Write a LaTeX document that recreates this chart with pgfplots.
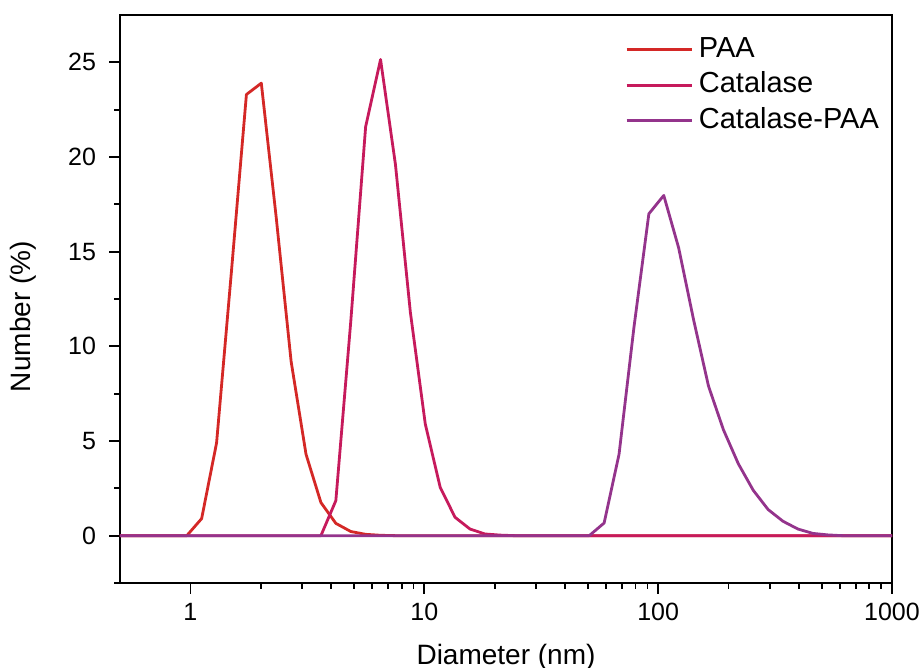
\documentclass[border=0pt]{standalone}
\usepackage{fontspec}
\setmainfont{Liberation Sans}
\usepackage{pgfplots}
\pgfplotsset{compat=1.18}

\definecolor{paa}{RGB}{212,40,38}
\definecolor{cat}{RGB}{198,26,92}
\definecolor{catpaa}{RGB}{148,52,140}

\begin{document}
\begin{tikzpicture}
\begin{axis}[
  name=ax,
  scale only axis,
  width=386pt, height=284pt,
  xmode=log,
  xmin=0.5, xmax=1000,
  ymin=-2.5, ymax=27.5,
  xtick={1,10,100,1000},
  xticklabels={1,10,100,1000},
  ytick={0,5,10,15,20,25},
  minor ytick={-2.5,2.5,7.5,12.5,17.5,22.5},
  tick align=outside,
  xtick pos=bottom, ytick pos=left,
  major tick length=5.5pt, minor tick length=3pt,
  every tick/.style={black, line width=0.9pt},
  axis line style={black, line width=1pt},
  /pgf/number format/assume math mode=true,
  tick label style={font=\fontsize{12.5}{14}\selectfont},
  xticklabel style={yshift=-1pt},
  yticklabel style={xshift=-3pt},
  xlabel={Diameter (nm)},
  ylabel={Number (\%)},
  label style={font=\fontsize{14}{16}\selectfont},
  xlabel style={at={(rel axis cs:0.5,0)}, anchor=center, yshift=-37pt},
  ylabel style={at={(rel axis cs:0,0.469)}, anchor=center, yshift=48.5pt},
  legend style={at={(rel axis cs:0.646,0.974)}, anchor=north west, draw=none, fill=none,
    font=\fontsize{14.5}{17}\selectfont, row sep=2.3pt,
    nodes={inner sep=1pt, text height=10.5pt, text depth=3pt}},
  legend cell align=left,
  legend image code/.code={\draw[#1] (0pt,0pt) -- (32.5pt,0pt); \path (34.5pt,0pt);},
  every axis plot/.append style={line width=1.4pt, line join=round},
]
% PAA
\addplot[paa] coordinates {
  (0.5,0) (0.8332,0) (0.9649,0) (1.117,0.9) (1.294,4.9) (1.499,14.0)
  (1.736,23.3) (2.010,23.9) (2.328,16.8) (2.696,9.2) (3.122,4.3)
  (3.615,1.75) (4.187,0.65) (4.849,0.22) (5.615,0.07) (6.503,0.02)
  (7.531,0) (1000,0)
};
\addlegendentry{PAA}
% Catalase
\addplot[cat] coordinates {
  (0.5,0) (3.122,0) (3.615,0) (4.187,1.85) (4.849,11.3) (5.615,21.6)
  (6.503,25.15) (7.531,19.6) (8.721,11.8) (10.10,5.9) (11.70,2.55)
  (13.54,0.97) (15.69,0.35) (18.17,0.09) (21.04,0.03) (24.36,0) (1000,0)
};
\addlegendentry{Catalase}
% Catalase-PAA
\addplot[catpaa] coordinates {
  (0.5,0) (50.75,0) (58.77,0.67) (68.06,4.3) (78.82,11.0) (91.28,17.0)
  (105.7,17.97) (122.4,15.2) (141.8,11.4) (164.2,7.9) (190.1,5.6)
  (220.2,3.8) (255.0,2.4) (295.3,1.38) (342.0,0.76) (396.1,0.35)
  (458.7,0.12) (531.2,0.04) (615.1,0) (1000,0)
};
\addlegendentry{Catalase-PAA}
\end{axis}
\pgfresetboundingbox
\path[use as bounding box] ([xshift=-60pt,yshift=-42.5pt]ax.south west) rectangle ([xshift=14pt,yshift=7.5pt]ax.north east);
\end{tikzpicture}
\end{document}
